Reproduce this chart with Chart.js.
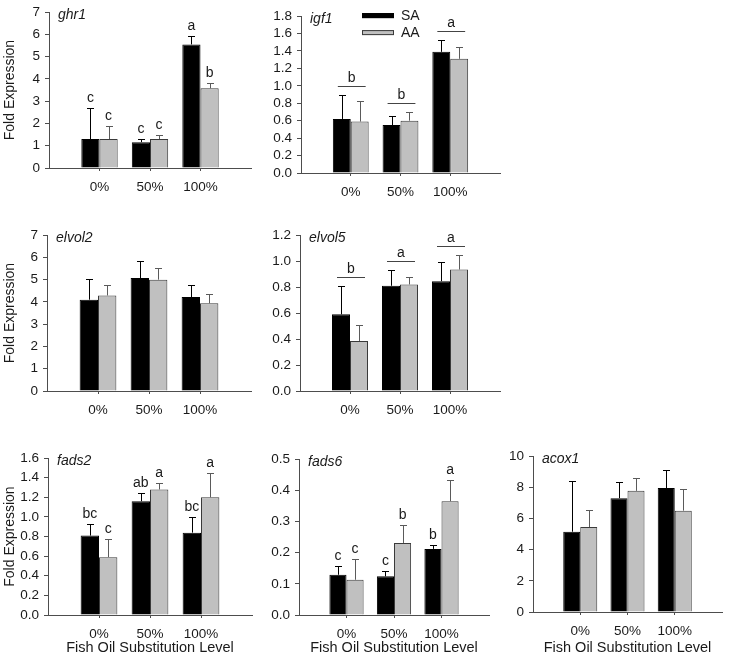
<!DOCTYPE html>
<html>
<head>
<meta charset="utf-8">
<script src="https://cdn.jsdelivr.net/npm/chart.js@4.4.0/dist/chart.umd.min.js"></script>
<style>
  html, body { margin: 0; padding: 0; background: #fff; }
  #page { position: relative; width: 729px; height: 660px; overflow: hidden; }
  #page canvas { position: absolute; }
</style>
</head>
<body>
<div id="page"></div>
<script>
// ---- data ----
const categories = ['0%', '50%', '100%'];
const seriesNames = ['SA', 'AA'];

const ghr1SA = [1.30, 1.16, 5.55];
const ghr1SAErr = [1.40, 0.12, 0.36];
const ghr1AA = [1.30, 1.30, 3.58];
const ghr1AAErr = [0.57, 0.19, 0.25];
const ghr1SALetters = ['c', 'c', 'a'];
const ghr1AALetters = ['c', 'c', 'b'];

const igf1SA = [0.62, 0.55, 1.39];
const igf1SAErr = [0.27, 0.10, 0.14];
const igf1AA = [0.59, 0.60, 1.31];
const igf1AAErr = [0.24, 0.10, 0.14];
const igf1GroupLetters = ['b', 'b', 'a'];

const elvol2SA = [4.10, 5.07, 4.22];
const elvol2SAErr = [0.94, 0.77, 0.56];
const elvol2AA = [4.29, 5.00, 3.94];
const elvol2AAErr = [0.46, 0.53, 0.41];

const elvol5SA = [0.59, 0.81, 0.845];
const elvol5SAErr = [0.22, 0.125, 0.145];
const elvol5AA = [0.385, 0.82, 0.935];
const elvol5AAErr = [0.12, 0.06, 0.11];
const elvol5GroupLetters = ['b', 'a', 'a'];

const fads2SA = [0.81, 1.16, 0.84];
const fads2SAErr = [0.12, 0.08, 0.16];
const fads2AA = [0.59, 1.28, 1.20];
const fads2AAErr = [0.18, 0.065, 0.25];
const fads2SALetters = ['bc', 'ab', 'bc'];
const fads2AALetters = ['c', 'a', 'a'];

const fads6SA = [0.129, 0.124, 0.212];
const fads6SAErr = [0.028, 0.018, 0.013];
const fads6AA = [0.113, 0.231, 0.365];
const fads6AAErr = [0.065, 0.058, 0.068];
const fads6SALetters = ['c', 'c', 'b'];
const fads6AALetters = ['c', 'b', 'a'];

const acox1SA = [5.15, 7.30, 7.95];
const acox1SAErr = [3.28, 1.07, 1.17];
const acox1AA = [5.45, 7.77, 6.50];
const acox1AAErr = [1.10, 0.85, 1.38];

// ---- styling ----
const FONT = "'Liberation Sans', Arial, Helvetica, sans-serif";
const TEXT = '#1a1a1a';
const AXIS = '#4d4d4d';
Chart.defaults.font.family = FONT;
Chart.defaults.color = TEXT;

// empty slot before and after the three groups, like the original axis
const pad = arr => arr ? [null, ...arr, null] : [];
const axisLabels = ['', ...categories, ''];

// error bars + letters over each bar
const errorBars = {
  id: 'errorBars',
  afterDatasetsDraw(chart) {
    const ctx = chart.ctx;
    const ys = chart.scales.y;
    ctx.save();
    chart.data.datasets.forEach((ds, i) => {
      const meta = chart.getDatasetMeta(i);
      meta.data.forEach((bar, j) => {
        const v = ds.data[j];
        if (v == null) return;
        const yTop = ys.getPixelForValue(v + ds.errors[j]);
        const yBar = ys.getPixelForValue(v);
        ctx.strokeStyle = ds.errColor;
        ctx.lineWidth = 1;
        ctx.beginPath();
        ctx.moveTo(Math.round(bar.x) + 0.5, yBar);
        ctx.lineTo(Math.round(bar.x) + 0.5, Math.round(yTop) + 0.5);
        ctx.moveTo(Math.round(bar.x) - 3, Math.round(yTop) + 0.5);
        ctx.lineTo(Math.round(bar.x) + 4, Math.round(yTop) + 0.5);
        ctx.stroke();
        if (ds.letters && ds.letters[j]) {
          ctx.fillStyle = TEXT;
          ctx.font = '14px ' + FONT;
          ctx.textAlign = 'center';
          ctx.textBaseline = 'alphabetic';
          ctx.fillText(ds.letters[j], bar.x, yTop - 6);
        }
      });
    });
    ctx.restore();
  }
};

// horizontal line over a group with a shared letter
const groupLines = {
  id: 'groupLines',
  afterDatasetsDraw(chart, args, opts) {
    if (!opts.letters) return;
    const ctx = chart.ctx;
    const ys = chart.scales.y;
    const m0 = chart.getDatasetMeta(0), m1 = chart.getDatasetMeta(1);
    const d0 = chart.data.datasets[0], d1 = chart.data.datasets[1];
    ctx.save();
    opts.letters.forEach((letter, k) => {
      const j = k + 1;
      const top = Math.min(
        ys.getPixelForValue(d0.data[j] + d0.errors[j]),
        ys.getPixelForValue(d1.data[j] + d1.errors[j])
      );
      const y = Math.round(top - 9) + 0.5;
      const b0 = m0.data[j], b1 = m1.data[j];
      const x0 = b0.x - b0.width / 2 + 5;
      const x1 = b1.x + b1.width / 2 - 3;
      ctx.strokeStyle = '#444';
      ctx.lineWidth = 1;
      ctx.beginPath();
      ctx.moveTo(x0, y);
      ctx.lineTo(x1, y);
      ctx.stroke();
      ctx.fillStyle = TEXT;
      ctx.font = '14px ' + FONT;
      ctx.textAlign = 'center';
      ctx.textBaseline = 'alphabetic';
      ctx.fillText(letter, (x0 + x1) / 2, y - 5);
    });
    ctx.restore();
  }
};

// italic gene name in the top-left corner of each plot
const geneLabel = {
  id: 'geneLabel',
  afterDraw(chart, args, opts) {
    const ctx = chart.ctx;
    const a = chart.chartArea;
    ctx.save();
    ctx.fillStyle = TEXT;
    ctx.font = 'italic 14px ' + FONT;
    ctx.textAlign = 'left';
    ctx.textBaseline = 'middle';
    ctx.fillText(opts.text, a.left + 9, a.top + 3);
    ctx.restore();
  }
};

// small legend (only in the igf1 panel)
const miniLegend = {
  id: 'miniLegend',
  afterDraw(chart, args, opts) {
    if (!opts.show) return;
    const ctx = chart.ctx;
    const a = chart.chartArea;
    ctx.save();
    chart.data.datasets.forEach((ds, i) => {
      const x = a.left + 61, y = a.top - 3 + i * 17;
      ctx.fillStyle = ds.backgroundColor;
      ctx.fillRect(x, y, 32, 5);
      ctx.strokeStyle = ds.borderColor;
      ctx.lineWidth = 1;
      ctx.strokeRect(x + 0.5, y + 0.5, 31, 4);
      ctx.fillStyle = TEXT;
      ctx.font = '14px ' + FONT;
      ctx.textAlign = 'left';
      ctx.textBaseline = 'middle';
      ctx.fillText(ds.label, x + 39, y + 3);
    });
    ctx.restore();
  }
};

const panels = [
  { gene: 'ghr1', sa: ghr1SA, saErr: ghr1SAErr, aa: ghr1AA, aaErr: ghr1AAErr, saLet: ghr1SALetters, aaLet: ghr1AALetters,
    yMax: 7, yStep: 1, dec: 0, col: 0, row: 0, box: { l: 49, r: 257, t: 9, b: 168 } },
  { gene: 'igf1', sa: igf1SA, saErr: igf1SAErr, aa: igf1AA, aaErr: igf1AAErr, group: igf1GroupLetters, legend: true,
    yMax: 1.8, yStep: 0.2, dec: 1, col: 1, row: 0, box: { l: 301, r: 506, t: 13, b: 173 } },
  { gene: 'elvol2', sa: elvol2SA, saErr: elvol2SAErr, aa: elvol2AA, aaErr: elvol2AAErr,
    yMax: 7, yStep: 1, dec: 0, col: 0, row: 1, box: { l: 47, r: 257, t: 232, b: 391 } },
  { gene: 'elvol5', sa: elvol5SA, saErr: elvol5SAErr, aa: elvol5AA, aaErr: elvol5AAErr, group: elvol5GroupLetters,
    yMax: 1.2, yStep: 0.2, dec: 1, col: 1, row: 1, box: { l: 300, r: 506, t: 232, b: 391 } },
  { gene: 'fads2', sa: fads2SA, saErr: fads2SAErr, aa: fads2AA, aaErr: fads2AAErr, saLet: fads2SALetters, aaLet: fads2AALetters,
    yMax: 1.6, yStep: 0.2, dec: 1, col: 0, row: 2, box: { l: 48, r: 258, t: 455, b: 615 } },
  { gene: 'fads6', sa: fads6SA, saErr: fads6SAErr, aa: fads6AA, aaErr: fads6AAErr, saLet: fads6SALetters, aaLet: fads6AALetters,
    yMax: 0.5, yStep: 0.1, dec: 1, col: 1, row: 2, box: { l: 299, r: 495, t: 456, b: 615 } },
  { gene: 'acox1', sa: acox1SA, saErr: acox1SAErr, aa: acox1AA, aaErr: acox1AAErr,
    yMax: 10, yStep: 2, dec: 0, col: 2, row: 2, box: { l: 533, r: 728, t: 453, b: 612 } }
];

const page = document.getElementById('page');

function makeChart(p) {
  const leftCol = p.col === 0;
  const bottomRow = p.row === 2;
  const yw = leftCol ? p.box.l : 40;
  const padTop = 10, padRight = 2;
  const xh = bottomRow ? 659 - p.box.b : 32;
  const w = yw + (p.box.r - p.box.l) + padRight;
  const h = padTop + (p.box.b - p.box.t) + xh;

  const cv = document.createElement('canvas');
  cv.width = w; cv.height = h;
  cv.style.width = w + 'px'; cv.style.height = h + 'px';
  cv.style.left = (p.box.l - yw) + 'px';
  cv.style.top = (p.box.t - padTop) + 'px';
  page.appendChild(cv);

  new Chart(cv, {
    type: 'bar',
    data: {
      labels: axisLabels,
      datasets: [
        { label: seriesNames[0], data: pad(p.sa), errors: pad(p.saErr), letters: pad(p.saLet),
          backgroundColor: '#000000', borderColor: '#000000', errColor: '#000000',
          borderWidth: 1, categoryPercentage: 0.72, barPercentage: 1 },
        { label: seriesNames[1], data: pad(p.aa), errors: pad(p.aaErr), letters: pad(p.aaLet),
          backgroundColor: '#c0c0c0', borderColor: '#3a3a3a', errColor: '#5a5a5a',
          borderWidth: 1, categoryPercentage: 0.72, barPercentage: 1 }
      ]
    },
    options: {
      responsive: false,
      animation: false,
      devicePixelRatio: 1,
      layout: { padding: { top: padTop, right: padRight, left: 0, bottom: 0 } },
      plugins: {
        legend: { display: false },
        tooltip: { enabled: false },
        geneLabel: { text: p.gene },
        groupLines: { letters: p.group || null },
        miniLegend: { show: !!p.legend }
      },
      scales: {
        x: {
          offset: false,
          grid: {
            display: true, offset: false, drawOnChartArea: false, drawTicks: true, tickLength: 3,
            tickColor: c => (c.tick && c.tick.label) ? AXIS : 'rgba(0,0,0,0)'
          },
          border: { display: true, color: AXIS, width: 1 },
          ticks: { autoSkip: false, maxRotation: 0, padding: 8, color: TEXT, font: { size: 13.5 } },
          title: {
            display: bottomRow, text: 'Fish Oil Substitution Level', color: TEXT,
            font: { size: 14.5 }, padding: { top: 0, bottom: 2 }
          },
          afterFit: s => { s.height = xh; }
        },
        y: {
          min: 0, max: p.yMax,
          grid: { display: true, drawOnChartArea: false, drawTicks: true, tickLength: 4, tickColor: AXIS },
          border: { display: true, color: AXIS, width: 1 },
          ticks: {
            stepSize: p.yStep, autoSkip: false, padding: 5, color: TEXT, font: { size: 13.5 },
            callback: v => Number(v).toFixed(p.dec)
          },
          title: {
            display: leftCol, text: 'Fold Expression', color: TEXT,
            font: { size: 14 }, padding: { top: 2, bottom: 0 }
          },
          afterFit: s => { s.width = yw; }
        }
      }
    },
    plugins: [errorBars, groupLines, geneLabel, miniLegend]
  });
}

panels.forEach(makeChart);
</script>
</body>
</html>
